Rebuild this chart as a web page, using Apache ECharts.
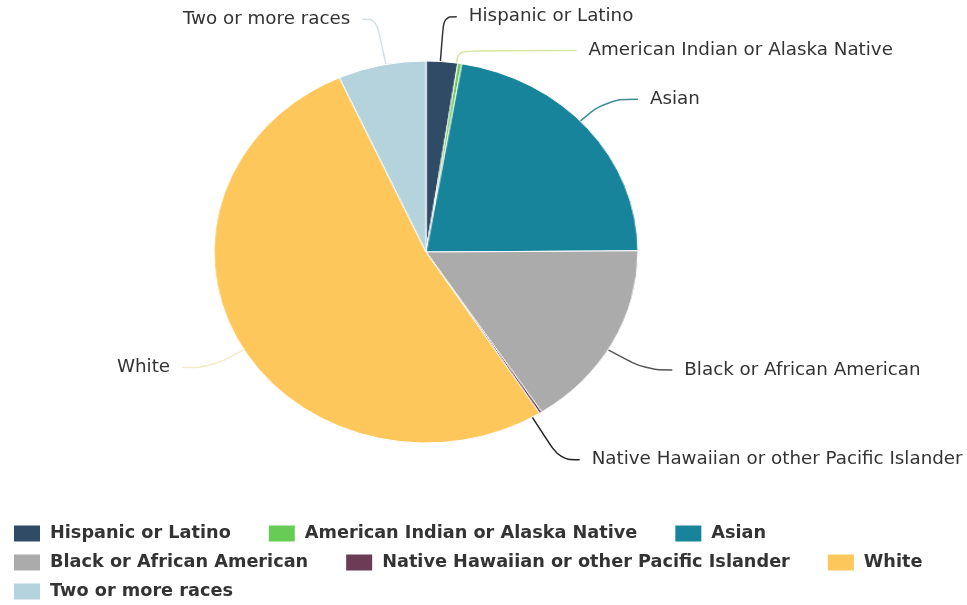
<!DOCTYPE html>
<html>
<head>
<meta charset="utf-8">
<script src="https://cdn.jsdelivr.net/npm/echarts@6/dist/echarts.min.js"></script>
<style>
  html, body { margin: 0; padding: 0; background: #fff; }
  #wrap { position: relative; width: 967px; height: 605px; overflow: hidden; }
  #base, #disc { position: absolute; left: 0; top: 0; width: 967px; height: 605px; }
  /* the pie disc is drawn a little wider than tall */
  #disc { transform: scaleX(1.11); transform-origin: 426px 0; pointer-events: none; }
</style>
</head>
<body>
<div id="wrap">
  <div id="base"></div>
  <div id="disc"></div>
</div>
<script>
// Population share by race / ethnicity (percent)
const categories = [
  'Hispanic or Latino',
  'American Indian or Alaska Native',
  'Asian',
  'Black or African American',
  'Native Hawaiian or other Pacific Islander',
  'White',
  'Two or more races'
];
const shares = [2.4, 0.3, 22.2, 15.9, 0.2, 52.3, 6.7];

// slice colours and leader-line colours
const sliceColors = ['#2f4b66', '#66cc55', '#18849b', '#ababab', '#6b3c53', '#fdc75c', '#b5d3dd'];
const lineColors  = ['#333333', '#d6e6a4', '#3f8c97', '#555555', '#222222', '#f3ecc9', '#d3e1e6'];
// leader-line segment lengths [radial, horizontal]
const lineLengths = [[45, 13], [13, 118], [45, 32], [58, 27], [56, 20], [53, 29], [47, 14]];

const CENTER = [426, 252];
const RADIUS = 191;
const FONT = 'DejaVu Sans';

const pieData = categories.map((name, i) => ({
  name: name,
  value: shares[i],
  itemStyle: { color: sliceColors[i] },
  labelLine: {
    length: lineLengths[i][0],
    length2: lineLengths[i][1],
    lineStyle: { color: lineColors[i] }
  }
}));

// Base layer: legend, labels and leader lines
const base = echarts.init(document.getElementById('base'), null, { renderer: 'canvas' });
base.setOption({
  animation: false,
  legend: {
    left: 12,
    right: -10,
    top: 523,
    padding: 0,
    itemGap: 8,
    itemWidth: 28,
    itemHeight: 18,
    icon: 'rect',
    textStyle: {
      fontFamily: FONT,
      fontSize: 17.7,
      fontWeight: 'bold',
      color: '#333',
      lineHeight: 21,
      padding: [0, 28, 0, 4]
    },
    data: categories
  },
  series: [{
    type: 'pie',
    center: CENTER,
    radius: RADIUS,
    startAngle: 90,
    clockwise: true,
    avoidLabelOverlap: true,
    label: {
      show: true,
      position: 'outside',
      fontFamily: FONT,
      fontSize: 18.3,
      color: '#333',
      overflow: 'none',
      distanceToLabelLine: 12
    },
    labelLine: { show: true, smooth: 0.4, lineStyle: { width: 1.5 } },
    itemStyle: { borderColor: '#fff', borderWidth: 1 },
    data: pieData
  }]
});

// Top layer: the pie disc itself, no text
const disc = echarts.init(document.getElementById('disc'), null, { renderer: 'canvas' });
disc.setOption({
  animation: false,
  series: [{
    type: 'pie',
    center: CENTER,
    radius: RADIUS,
    startAngle: 90,
    clockwise: true,
    label: { show: false },
    labelLine: { show: false },
    itemStyle: { borderColor: '#fff', borderWidth: 1 },
    data: categories.map((name, i) => ({
      name: name,
      value: shares[i],
      itemStyle: { color: sliceColors[i] }
    }))
  }]
});
</script>
</body>
</html>
